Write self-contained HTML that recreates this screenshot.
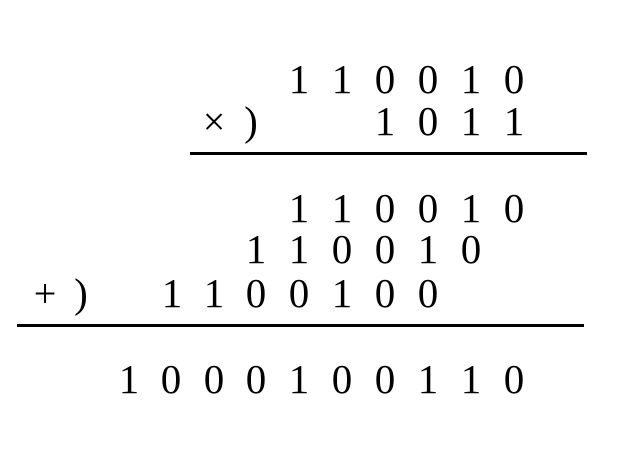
<!DOCTYPE html>
<html><head><meta charset="utf-8"><style>
html,body{margin:0;padding:0;background:#fff;}
#c{position:relative;width:617px;height:453px;overflow:hidden;font-family:"Liberation Serif","Tinos","Times New Roman","DejaVu Serif",serif;font-size:41px;color:#000;}
.d{position:absolute;width:40px;margin-left:-20px;text-align:center;line-height:41px;height:41px;}
.s{font-size:40px;}
.l{position:absolute;height:3px;background:#000;}
</style></head><body>
<div id="c">
<div class="d" style="left:299px;top:59px">1</div><div class="d" style="left:342px;top:59px">1</div><div class="d" style="left:385px;top:59px">0</div><div class="d" style="left:428px;top:59px">0</div><div class="d" style="left:471px;top:59px">1</div><div class="d" style="left:514px;top:59px">0</div>
<div class="d s" style="left:214px;top:101px">×</div><div class="d" style="left:251px;top:101px">)</div>
<div class="d" style="left:385px;top:101px">1</div><div class="d" style="left:428px;top:101px">0</div><div class="d" style="left:471px;top:101px">1</div><div class="d" style="left:514px;top:101px">1</div>
<div class="l" style="left:190px;top:152px;width:397px"></div>
<div class="d" style="left:299px;top:188px">1</div><div class="d" style="left:342px;top:188px">1</div><div class="d" style="left:385px;top:188px">0</div><div class="d" style="left:428px;top:188px">0</div><div class="d" style="left:471px;top:188px">1</div><div class="d" style="left:514px;top:188px">0</div>
<div class="d" style="left:256px;top:229px">1</div><div class="d" style="left:299px;top:229px">1</div><div class="d" style="left:342px;top:229px">0</div><div class="d" style="left:385px;top:229px">0</div><div class="d" style="left:428px;top:229px">1</div><div class="d" style="left:471px;top:229px">0</div>
<div class="d s" style="left:45px;top:273px">+</div><div class="d" style="left:81px;top:273px">)</div>
<div class="d" style="left:172px;top:273px">1</div><div class="d" style="left:214px;top:273px">1</div><div class="d" style="left:256px;top:273px">0</div><div class="d" style="left:299px;top:273px">0</div><div class="d" style="left:342px;top:273px">1</div><div class="d" style="left:385px;top:273px">0</div><div class="d" style="left:428px;top:273px">0</div>
<div class="l" style="left:17px;top:324px;width:567px"></div>
<div class="d" style="left:129px;top:359px">1</div><div class="d" style="left:171px;top:359px">0</div><div class="d" style="left:214px;top:359px">0</div><div class="d" style="left:256px;top:359px">0</div><div class="d" style="left:299px;top:359px">1</div><div class="d" style="left:342px;top:359px">0</div><div class="d" style="left:385px;top:359px">0</div><div class="d" style="left:428px;top:359px">1</div><div class="d" style="left:471px;top:359px">1</div><div class="d" style="left:514px;top:359px">0</div>
</div>
</body></html>
